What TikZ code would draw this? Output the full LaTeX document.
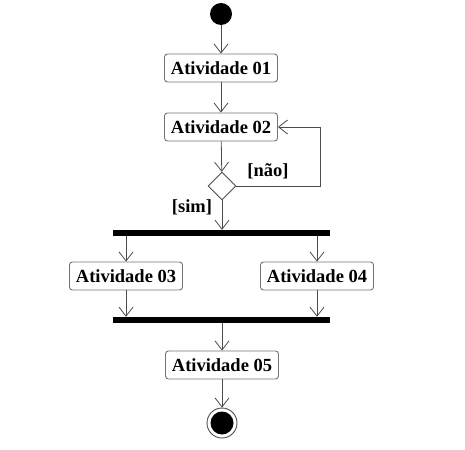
\documentclass[tikz,border=0pt]{standalone}
\usepackage{fontspec}
\setmainfont{Liberation Serif}
\usetikzlibrary{arrows.meta,positioning,shapes.geometric}

\begin{document}
\begin{tikzpicture}[x=1pt,y=-1pt,
	atividade/.style={shape=rectangle,rounded corners=3pt,draw=black!55,line width=0.9pt,
		minimum width=113pt,minimum height=28pt,inner sep=0pt,
		font=\fontsize{18.5}{18.5}\selectfont\bfseries},
	barra/.style={shape=rectangle,fill=black,minimum width=217pt,minimum height=6pt,inner sep=0pt},
	guarda/.style={font=\fontsize{18.5}{18.5}\selectfont\bfseries},
	fluxo/.style={draw=black!70,line width=0.8pt,-{Straight Barb[length=9pt,width=14pt,line width=0.8pt]}}]
	\useasboundingbox (0,0) rectangle (465,449);
	\path (221,14) node (inicio) [shape=circle,fill=black,minimum size=22pt,inner sep=0pt] {}
		  (221,68) node (a1) [atividade] {Atividade 01}
		  (221,127) node (a2) [atividade] {Atividade 02}
		  (222,186) node (decisao) [shape=diamond,draw=black!70,line width=0.9pt,minimum width=28pt,minimum height=28pt,inner sep=0pt] {}
		  (221,233) node (fork) [barra] {}
		  (126,276) node (a3) [atividade] {Atividade 03}
		  (317,276) node (a4) [atividade] {Atividade 04}
		  (221,320) node (join) [barra] {}
		  (222,365) node (a5) [atividade] {Atividade 05}
		  (222,423) node (fim) [shape=circle,draw=black!70,line width=0.9pt,minimum size=30pt,inner sep=0pt] {}
		  (320,127) coordinate (volta);
	\node (fimdot) [shape=circle,fill=black,minimum size=23pt,inner sep=0pt] at (fim) {};
	\node (nao) [guarda] at (268,171) {[não]};
	\node (sim) [guarda] at (192,207) {[sim]};
	\draw[fluxo] (inicio) -- (a1);
	\draw[fluxo] (a1) -- (a2);
	\draw[fluxo] (a2) -- (decisao);
	\draw[fluxo] (decisao.south) -- (decisao.south |- fork.north);
	\draw[fluxo] (decisao.east) -| (volta) -- (a2.east);
	\draw[fluxo] (fork.south -| a3) -- (a3);
	\draw[fluxo] (fork.south -| a4) -- (a4);
	\draw[fluxo] (a3) -- (a3 |- join.north);
	\draw[fluxo] (a4) -- (a4 |- join.north);
	\draw[fluxo] (join.south -| a5) -- (a5);
	\draw[fluxo] (a5) -- (fim);
\end{tikzpicture}
\end{document}
